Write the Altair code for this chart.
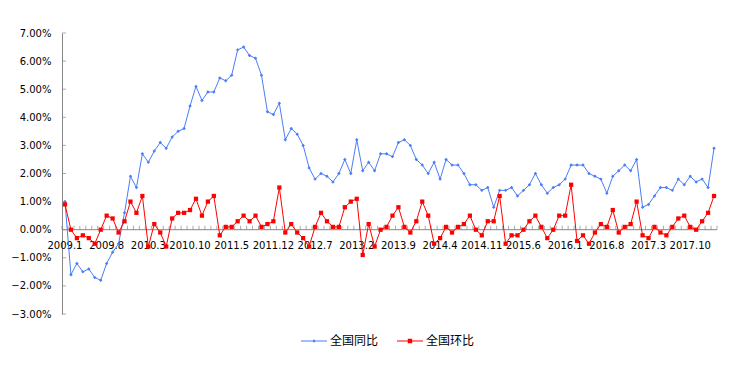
import altair as alt
import pandas as pd

months = [f"{y}.{m}" for y in range(2009, 2019) for m in range(1, 13)][:110]

tongbi = [
    1.0, -1.6, -1.2, -1.5, -1.4, -1.7, -1.8, -1.2, -0.8, -0.5, 0.6, 1.9,
    1.5, 2.7, 2.4, 2.8, 3.1, 2.9, 3.3, 3.5, 3.6, 4.4, 5.1, 4.6,
    4.9, 4.9, 5.4, 5.3, 5.5, 6.4, 6.5, 6.2, 6.1, 5.5, 4.2, 4.1,
    4.5, 3.2, 3.6, 3.4, 3.0, 2.2, 1.8, 2.0, 1.9, 1.7, 2.0, 2.5,
    2.0, 3.2, 2.1, 2.4, 2.1, 2.7, 2.7, 2.6, 3.1, 3.2, 3.0, 2.5,
    2.3, 2.0, 2.4, 1.8, 2.5, 2.3, 2.3, 2.0, 1.6, 1.6, 1.4, 1.5,
    0.8, 1.4, 1.4, 1.5, 1.2, 1.4, 1.6, 2.0, 1.6, 1.3, 1.5, 1.6,
    1.8, 2.3, 2.3, 2.3, 2.0, 1.9, 1.8, 1.3, 1.9, 2.1, 2.3, 2.1,
    2.5, 0.8, 0.9, 1.2, 1.5, 1.5, 1.4, 1.8, 1.6, 1.9, 1.7, 1.8,
    1.5, 2.9,
]

huanbi = [
    0.9, 0.0, -0.3, -0.2, -0.3, -0.5, 0.0, 0.5, 0.4, -0.1, 0.3, 1.0,
    0.6, 1.2, -0.6, 0.2, -0.1, -0.6, 0.4, 0.6, 0.6, 0.7, 1.1, 0.5,
    1.0, 1.2, -0.2, 0.1, 0.1, 0.3, 0.5, 0.3, 0.5, 0.1, 0.2, 0.3,
    1.5, -0.1, 0.2, -0.1, -0.3, -0.6, 0.1, 0.6, 0.3, 0.1, 0.1, 0.8,
    1.0, 1.1, -0.9, 0.2, -0.6, 0.0, 0.1, 0.5, 0.8, 0.1, -0.1, 0.3,
    1.0, 0.5, -0.5, -0.3, 0.1, -0.1, 0.1, 0.2, 0.5, 0.0, -0.2, 0.3,
    0.3, 1.2, -0.5, -0.2, -0.2, 0.0, 0.3, 0.5, 0.1, -0.3, 0.0, 0.5,
    0.5, 1.6, -0.4, -0.2, -0.5, -0.1, 0.2, 0.1, 0.7, -0.1, 0.1, 0.2,
    1.0, -0.2, -0.3, 0.1, -0.1, -0.2, 0.1, 0.4, 0.5, 0.1, 0.0, 0.3,
    0.6, 1.2,
]

series_names = ["全国同比", "全国环比"]
tick_labels = ["2009.1", "2009.8", "2010.3", "2010.10", "2011.5", "2011.12",
               "2012.7", "2013.2", "2013.9", "2014.4", "2014.11", "2015.6",
               "2016.1", "2016.8", "2017.3", "2017.10"]
y_ticks = list(range(-3, 8))

BLUE = "#4A7EF7"
RED = "#FF0000"
AXIS = "#868686"

n = len(months)
df_b = pd.DataFrame({"i": list(range(n)), "m": months, "s": series_names[0], "v": tongbi})
df_r = pd.DataFrame({"i": list(range(n)), "m": months, "s": series_names[1], "v": huanbi})

lab_df = pd.DataFrame({"i": [months.index(t) for t in tick_labels], "t": tick_labels,
                       "v": [0] * len(tick_labels)})
bound_df = pd.DataFrame({"i": [k + 0.5 for k in range(-1, n)], "v": [0] * (n + 1)})
ytick_df = pd.DataFrame({"v": y_ticks, "i": [-0.5] * len(y_ticks)})

xs = alt.Scale(domain=[-0.5, n - 0.5], nice=False, zero=False)
ys = alt.Scale(domain=[-3, 7], nice=False, zero=False)

yaxis = alt.Axis(values=y_ticks, labelExpr="format(datum.value, '.2f') + '%'",
                 grid=False, ticks=False, domainColor=AXIS, labelFont="DejaVu Sans",
                 labelFontSize=10, labelColor="#000000", labelPadding=11, title=None)

x_enc = alt.X("i:Q", scale=xs, axis=None)
y_enc = alt.Y("v:Q", scale=ys, axis=yaxis)

labels = alt.Chart(lab_df).mark_text(baseline="middle", dy=16, font="DejaVu Sans",
                                      fontSize=10, color="#000000").encode(
    x=x_enc, y=y_enc, text="t:N")

zero = alt.Chart(pd.DataFrame({"v": [0]})).mark_rule(color=AXIS, strokeWidth=1).encode(
    y=y_enc)

xticks = alt.Chart(bound_df).mark_tick(orient="vertical", size=4, thickness=1,
                                       yOffset=-2, color=AXIS).encode(x=x_enc, y=y_enc)

yticks = alt.Chart(ytick_df).mark_tick(orient="horizontal", size=4, thickness=1,
                                       xOffset=2, color=AXIS).encode(x=x_enc, y=y_enc)

line_b = alt.Chart(df_b).mark_line(color=BLUE, strokeWidth=1).encode(x=x_enc, y=y_enc)
line_r = alt.Chart(df_r).mark_line(color=RED, strokeWidth=1).encode(x=x_enc, y=y_enc)
pt_b = alt.Chart(df_b).mark_point(shape="diamond", filled=True, size=12, color=BLUE,
                                  opacity=1).encode(x=x_enc, y=y_enc)
pt_r = alt.Chart(df_r).mark_square(size=18, color=RED, opacity=1).encode(x=x_enc, y=y_enc)

# legend symbols: thin bar (line) + marker, all filled
path_b = "M-1,-0.045H1V0.045H-1Z M-0.13,0L0,-0.13L0.13,0L0,0.13Z"
path_r = "M-1,-0.045H1V0.045H-1Z M-0.17,-0.17H0.17V0.17H-0.17Z"


def make_leg(x, path):
    return alt.Legend(orient="none", legendX=x, legendY=295, title=None,
                      symbolType=path, symbolSize=676, symbolStrokeWidth=0,
                      symbolOpacity=1, labelFont="Noto Sans CJK SC", labelFontSize=12,
                      labelColor="#000000", labelOffset=3, padding=0)


leg_b = alt.Chart(df_b).mark_point(opacity=0, filled=True).encode(
    x=x_enc, y=y_enc,
    color=alt.Color("s:N", scale=alt.Scale(domain=[series_names[0]], range=[BLUE]),
                    legend=make_leg(239, path_b)))
leg_r = alt.Chart(df_r).mark_point(opacity=0, filled=True).encode(
    x=x_enc, y=y_enc,
    color=alt.Color("s:N", scale=alt.Scale(domain=[series_names[1]], range=[RED]),
                    legend=make_leg(335, path_r)))

chart = alt.layer(labels, zero, xticks, yticks, line_b, line_r, pt_b, pt_r, leg_b, leg_r).resolve_scale(
    color="independent"
).properties(
    width=655, height=281,
    autosize=alt.AutoSizeParams(type="none"),
    padding={"left": 54, "top": 25, "right": 5, "bottom": 40},
    background="white",
).configure_view(stroke=None)

chart.save("out.html", embed_options={"renderer": "svg", "actions": False})
